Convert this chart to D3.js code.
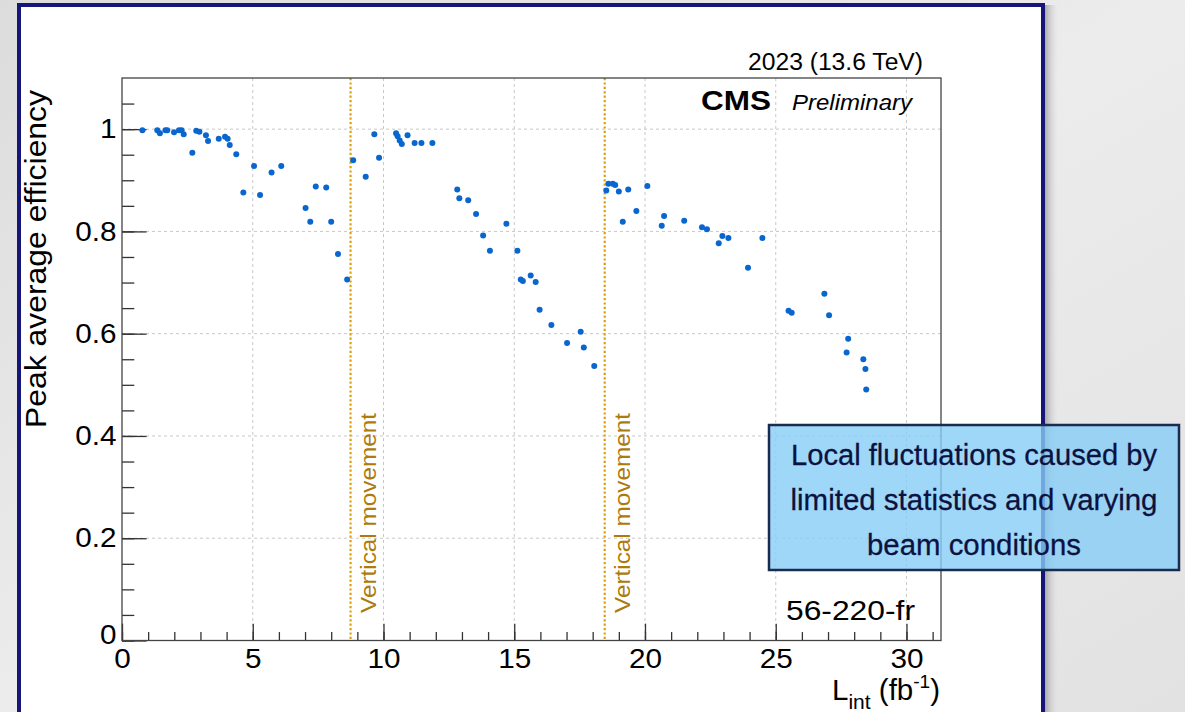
<!DOCTYPE html>
<html>
<head>
<meta charset="utf-8">
<script src="https://cdn.jsdelivr.net/npm/d3@7"></script>
<style>
  html, body { margin: 0; padding: 0; background: #e6e6e6; }
  svg { display: block; }
  text { font-family: "Liberation Sans", Arial, Helvetica, sans-serif; }
</style>
</head>
<body>
<div id="chart"></div>
<script>
// integrated luminosity (fb^-1) and peak average efficiency
const lumi = [
  0.78, 1.35, 1.45, 1.66, 1.73, 1.99, 2.18, 2.28, 2.36, 2.69,
  2.84, 2.96, 3.21, 3.29, 3.70, 3.94, 4.04, 4.12, 4.37, 4.64,
  5.05, 5.28, 5.72, 6.09, 7.02, 7.20, 7.41, 7.81, 8.00, 8.26,
  8.61, 8.84, 9.32, 9.65, 9.83, 10.48, 10.54, 10.62, 10.70, 10.92,
  11.19, 11.45, 11.87, 12.82, 12.90, 13.24, 13.54, 13.81, 14.07, 14.70,
  15.12, 15.25, 15.33, 15.63, 15.82, 15.97, 16.42, 17.02, 17.54, 17.66,
  18.06, 18.52, 18.60, 18.77, 18.86, 19.00, 19.15, 19.36, 19.67, 20.09,
  20.64, 20.73, 21.50, 22.18, 22.37, 22.82, 22.96, 23.19, 23.94, 24.49,
  25.49, 25.61, 26.86, 27.04, 27.77, 27.71, 28.35, 28.43, 28.46
];
const efficiency = [
  0.998, 0.998, 0.992, 0.998, 0.998, 0.994, 0.998, 0.998, 0.990, 0.954,
  0.997, 0.995, 0.988, 0.977, 0.981, 0.985, 0.981, 0.969, 0.951, 0.876,
  0.928, 0.871, 0.915, 0.928, 0.846, 0.819, 0.888, 0.886, 0.819, 0.756,
  0.706, 0.939, 0.907, 0.990, 0.944, 0.992, 0.986, 0.978, 0.971, 0.988,
  0.973, 0.973, 0.973, 0.882, 0.865, 0.861, 0.834, 0.792, 0.762, 0.815,
  0.762, 0.706, 0.703, 0.714, 0.701, 0.647, 0.617, 0.582, 0.604, 0.573,
  0.537, 0.880, 0.893, 0.893, 0.891, 0.878, 0.819, 0.882, 0.840, 0.889,
  0.811, 0.830, 0.821, 0.808, 0.804, 0.777, 0.791, 0.787, 0.729, 0.787,
  0.645, 0.641, 0.678, 0.636, 0.590, 0.563, 0.550, 0.531, 0.491
];
const movements = [8.74, 18.46];
const movementLabel = 'Vertical movement';
const xMajor = [0, 5, 10, 15, 20, 25, 30];
const xMinor = d3.range(0, 32, 1);
const yMajor = [0, 0.2, 0.4, 0.6, 0.8, 1];
const yMinor = d3.range(0, 1.1, 0.05);
const noteLines = ['Local fluctuations caused by', 'limited statistics and varying', 'beam conditions'];

const W = 1185, H = 712;
const frame = { left: 122, top: 78, right: 941, bottom: 640.5 };

const svg = d3.select('#chart').append('svg')
  .attr('width', W).attr('height', H);

// slide background + panel
const defs = svg.append('defs');
const bg = defs.append('linearGradient').attr('id', 'bg')
  .attr('x1', 0).attr('y1', 0).attr('x2', 1).attr('y2', 1);
bg.append('stop').attr('offset', 0).attr('stop-color', '#dcdcdc');
bg.append('stop').attr('offset', 0.5).attr('stop-color', '#ececec');
bg.append('stop').attr('offset', 1).attr('stop-color', '#e2e2e2');
const shadow = defs.append('linearGradient').attr('id', 'shadow');
shadow.append('stop').attr('offset', 0).attr('stop-color', '#9a9a9a').attr('stop-opacity', 0.8);
shadow.append('stop').attr('offset', 1).attr('stop-color', '#e6e6e6').attr('stop-opacity', 0);

svg.append('rect').attr('width', W).attr('height', H).attr('fill', 'url(#bg)');
svg.append('rect').attr('x', 1045).attr('y', 5).attr('width', 14).attr('height', H)
  .attr('fill', 'url(#shadow)');
svg.append('rect').attr('x', 19).attr('y', 5).attr('width', 1024).attr('height', 720)
  .attr('fill', '#fff').attr('stroke', '#15157a').attr('stroke-width', 4);

const x = d3.scaleLinear().domain([0, 31.32]).range([frame.left, frame.right]);
const y = d3.scaleLinear().domain([0, 1.1]).range([frame.bottom, frame.top]);

const plotW = frame.right - frame.left;
const plotH = frame.bottom - frame.top;

// grid
const grid = svg.append('g').attr('stroke', '#c8c8c8').attr('stroke-dasharray', '3,3').attr('stroke-width', 1);
xMajor.filter(d => d > 0).forEach(d => {
  grid.append('line').attr('x1', x(d)).attr('x2', x(d))
    .attr('y1', frame.top).attr('y2', frame.bottom);
});
yMajor.filter(d => d > 0).forEach(d => {
  grid.append('line').attr('x1', frame.left).attr('x2', frame.right)
    .attr('y1', y(d)).attr('y2', y(d));
});

// vertical movement markers
movements.forEach(m => {
  svg.append('line')
    .attr('x1', x(m)).attr('x2', x(m))
    .attr('y1', frame.top).attr('y2', frame.bottom)
    .attr('stroke', '#dfa00a').attr('stroke-width', 2.2)
    .attr('stroke-dasharray', '2.2,2.2');
  svg.append('text')
    .attr('transform', `translate(${x(m) + 25},613) rotate(-90)`)
    .attr('font-size', 22.5)
    .attr('fill', '#ad7a0c')
    .attr('textLength', 200)
    .attr('lengthAdjust', 'spacingAndGlyphs')
    .text(movementLabel);
});

// axes (ticks drawn inside the frame, ROOT style)
const axisColor = '#333';
const xAxis = svg.append('g').attr('transform', `translate(0,${frame.bottom})`)
  .call(d3.axisBottom(x).tickValues(xMajor).tickSize(-0.03 * plotH).tickPadding(8)
    .tickFormat(d3.format('d')));
svg.append('g').attr('transform', `translate(0,${frame.bottom})`)
  .call(d3.axisBottom(x).tickValues(xMinor).tickSize(-0.015 * plotH).tickFormat(''))
  .select('.domain').remove();

const yAxis = svg.append('g').attr('transform', `translate(${frame.left},0)`)
  .call(d3.axisLeft(y).tickValues(yMajor).tickSize(-0.03 * plotW).tickPadding(5)
    .tickFormat(d => d === 0 ? '0' : d === 1 ? '1' : d3.format('.1f')(d)));
svg.append('g').attr('transform', `translate(${frame.left},0)`)
  .call(d3.axisLeft(y).tickValues(yMinor).tickSize(-0.015 * plotW).tickFormat(''))
  .select('.domain').remove();

svg.selectAll('.tick line').attr('stroke', axisColor).attr('stroke-width', 1.3);
svg.selectAll('.domain').remove();
[xAxis, yAxis].forEach(a => a.selectAll('.tick text')
  .attr('font-size', 27).attr('fill', '#000')
  .attr('font-family', '"Liberation Sans", Arial, sans-serif')
  .attr('transform', 'scale(1.1,1)'));
// ROOT puts the y "0" label slightly above the corner
yAxis.selectAll('.tick text').filter(d => d === 0).attr('dy', '0.1em');

// frame
svg.append('rect')
  .attr('x', frame.left).attr('y', frame.top)
  .attr('width', plotW).attr('height', plotH)
  .attr('fill', 'none').attr('stroke', '#444').attr('stroke-width', 1.3);

// points
svg.append('g').selectAll('circle')
  .data(lumi.map((l, i) => [l, efficiency[i]]))
  .join('circle')
  .attr('cx', d => x(d[0]))
  .attr('cy', d => y(d[1]))
  .attr('r', 3)
  .attr('fill', '#0a66cf');

// axis titles
svg.append('text')
  .attr('transform', `translate(46,90) rotate(-90)`)
  .attr('text-anchor', 'end')
  .attr('font-size', 29.5)
  .attr('textLength', 338)
  .attr('lengthAdjust', 'spacingAndGlyphs')
  .text('Peak average efficiency');

const xt = svg.append('text')
  .attr('x', 940).attr('y', 700)
  .attr('text-anchor', 'end')
  .attr('font-size', 29.5);
xt.append('tspan').text('L');
xt.append('tspan').attr('font-size', 21).attr('dy', 9).text('int');
xt.append('tspan').attr('dy', -9).text(' (fb');
xt.append('tspan').attr('font-size', 19).attr('dy', -12).text('-1');
xt.append('tspan').attr('dy', 12).text(')');

// labels
const label = (tx, ty, size, len, txt) => svg.append('text')
  .attr('x', tx).attr('y', ty)
  .attr('font-size', size)
  .attr('textLength', len)
  .attr('lengthAdjust', 'spacingAndGlyphs')
  .text(txt);
label(748, 70, 23, 175, '2023 (13.6 TeV)');
label(701, 110, 28.5, 70, 'CMS').attr('font-weight', 'bold');
label(792, 110, 22.5, 120, 'Preliminary').attr('font-style', 'italic');
label(786, 620, 28.5, 129, '56-220-fr');

// callout
svg.append('rect')
  .attr('x', 769).attr('y', 425).attr('width', 410).attr('height', 145)
  .attr('fill', '#87cdf7').attr('fill-opacity', 0.8)
  .attr('stroke', '#1b2b4f').attr('stroke-width', 2.5);
const noteWidths = [366, 367, 214];
noteLines.forEach((t, i) => {
  svg.append('text')
    .attr('x', 974).attr('y', 465 + i * 45)
    .attr('text-anchor', 'middle')
    .attr('font-family', '"Liberation Sans Narrow", "DejaVu Sans Condensed", Arial, sans-serif')
    .attr('font-size', 30)
    .attr('fill', '#0c1240')
    .attr('stroke', '#0c1240').attr('stroke-width', 0.3)
    .attr('textLength', noteWidths[i])
    .attr('lengthAdjust', 'spacingAndGlyphs')
    .text(t);
});
</script>
</body>
</html>
